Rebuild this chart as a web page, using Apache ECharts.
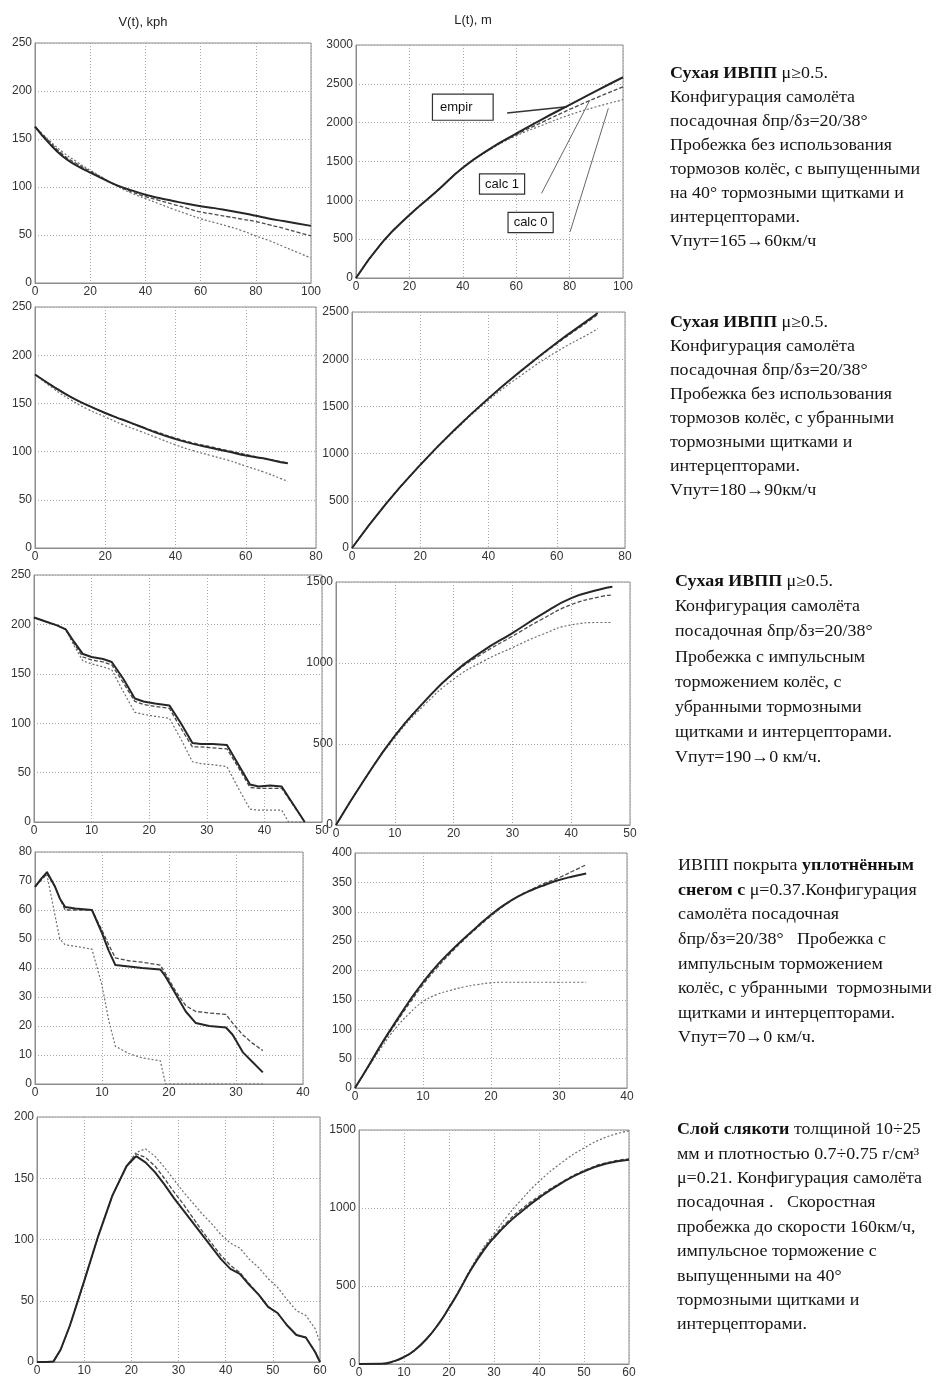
<!DOCTYPE html>
<html>
<head>
<meta charset="utf-8">
<script src="https://cdn.jsdelivr.net/npm/echarts@6/dist/echarts.min.js"></script>
<style>
  html, body { margin: 0; padding: 0; background: #fff; }
  #chart { width: 941px; height: 1383px; }
</style>
</head>
<body>
<div id="chart"></div>
<script>
// ---- Row 1: dry runway, no wheel brakes, spoilers out at 40° ----
const t1 = [0,5,10,15,20,25,30,35,40,45,50,55,60,65,70,75,80,85,90,95,100];
const v1Empir = [163,146,132,122.5,115,108,101.5,96.5,92,88.5,85.5,82.5,80,78,75.5,73,70,67,64.5,62,59.5];
const v1Calc1 = [163,148,134,124.5,116.5,108.5,101,95,90,86,82,78,74,71.5,69,66.5,64,60.5,57,53,49];
const v1Calc0 = [163,149,136.5,126.5,117.5,109,100.5,93.5,88,82.5,77,72,67,63,59,54.5,49,44,38,32,26];
const tL1 = [0,10,20,30,40,50,60,70,80,90,100];
const l1Empir = [0,465,810,1110,1420,1660,1860,2050,2230,2410,2585];
const l1Calc1 = [0,465,810,1110,1420,1655,1845,2010,2170,2320,2460];
const l1Calc0 = [0,465,810,1110,1420,1650,1830,1970,2100,2205,2295];

// ---- Row 2: dry runway, no wheel brakes, spoilers retracted ----
const t2 = [0,5,10,15,20,25,30,35,40,45,50,55,60,65,70,72];
const v2Empir = [180,168,157,148,140,133,126,119,113,108,104,100,96,93,89,88];
const v2Calc1 = [180,168,157,148,140,133,126,120,114,109,105,101,97,93,89.5,88];
const v2Calc0 = [180,166,154,144,136,128,121,114,107,101,96,91,85,79,72,69];
const tL2 = [0,10,20,30,40,50,60,70,72];
const l2Empir = [0,470,880,1250,1585,1890,2175,2435,2490];
const l2Calc1 = [0,470,880,1250,1585,1885,2165,2420,2475];
const l2Calc0 = [0,470,875,1240,1565,1840,2080,2280,2325];

// ---- Row 3: dry runway, pulsed wheel braking ----
const t3 = [0,2,4,5.5,7,8.5,10,12,13.5,15.5,17.5,19,21,23.5,25.5,27.5,29,31,33.5,35.5,37.5,39,41,43,44.2,45,47];
const v3Empir = [207,203,199,195,182,170,167,165,162,145,125,122,120,118,100,80,79,79,78,58,38,36,37,36,25,18,0];
const v3Calc1 = [207,203,199,195,180,167,164,162,159,141,122,119,117,115,95,76,76,75,74,55,35,34,34,34,24,17,0];
const v3Calc0 = [207,203,199,195,178,163,160,157,154,132,111,109,107,105,84,61,59,58,56,34,13,12,12,12,0,0,0];
const tL3 = [0,5,10,15,20,25,30,35,40,45,47];
const l3Empir = [0,290,550,760,940,1075,1185,1300,1400,1455,1470];
const l3Calc1 = [0,290,550,760,935,1060,1165,1270,1360,1410,1420];
const l3Calc0 = [0,288,540,740,900,1010,1095,1175,1235,1250,1250];

// ---- Row 4: compacted snow, mu = 0.37 ----
const t4 = [0,1,1.8,3,3.7,4.5,6,8.5,10,11,12,14,16,18.7,19.5,21,22.5,24,26,28.5,29.5,31,32.5,34];
const v4Empir = [68,71,73,68,64,61,60.5,60,52,46,41,40.5,40,39.5,37,31,25,21,20,19.5,17,11,7.5,4];
const v4Calc1 = [68,70.5,72.5,68,64,60,60,60,53,48,43.5,42.5,42,41,38,32,27,25,24.5,24,21,17,14,11.5];
const v4Calc0 = [68,71,72,58,50,48,47.5,46.5,34,22,13,10.5,9,8,0,0,0,0,0,0,0,0,0,0];
const tL4 = [0,2,4,6,8,10,12,14,16,18,20,22,24,26,28,30,32,34];
const l4Empir = [0,38,77,113,148,180,208,232,254,275,295,312,326,337,346,354,360,365];
const l4Calc1 = [0,37,75,110,144,176,204,229,252,273,293,311,326,338,349,358,369,380];
const l4Calc0 = [0,36,71,102,127,147,159,166,172,176,179,180,180,180,180,180,180,180];

// ---- Row 5: slush layer, mu = 0.21 ----
const t5 = [0,2,3.5,5,7,10,13,16,19,21,23,25,27,29,31,33,35,37,39,41,43,45,47,49,51,53,55,57,59,60];
const v5Empir = [0,0,0.5,10,30,66,103,136,160,168,163,155,145,134,124,114,104,94,84,76,72,63,55,45,40,30,22,20,8,0];
const v5Calc1 = [0,0,0.5,10,30,66,103,136,160,170,167,160,150,139,129,118,107,97,87,79,73,64,55,45,40,30,22,20,8,0];
const v5Calc0 = [0,0,0.5,10,30,66,103,136,160,171,174,168,159,149,139,130,121,113,104,97,93,84,77,68,61,51,42,38,27,16];
const tL5 = [0,5,8,10,12,15,18,20,22,25,28,30,33,36,40,45,50,55,60];
const l5Empir = [0,1,20,45,80,160,270,360,455,610,740,810,900,975,1065,1160,1235,1285,1310];
const l5Calc1 = [0,1,20,45,80,160,270,362,460,615,750,820,912,990,1075,1165,1240,1290,1315];
const l5Calc0 = [0,1,20,45,80,160,270,362,462,620,760,835,950,1050,1170,1290,1385,1455,1495];

const seriesNames = ['empir', 'calc 1', 'calc 0'];
const columnTitles = ['V(t), kph', 'L(t), m'];

// Description texts beside each row ({b|...} = bold)
const notes1 = [
  '{b|Сухая ИВПП} μ≥0.5.',
  'Конфигурация самолёта',
  'посадочная δпр/δз=20/38°',
  'Пробежка без использования',
  'тормозов колёс, с выпущенными',
  'на 40° тормозными щитками и',
  'интерцепторами.',
  'Vпут=165→60км/ч'
];
const notes2 = [
  '{b|Сухая ИВПП} μ≥0.5.',
  'Конфигурация самолёта',
  'посадочная δпр/δз=20/38°',
  'Пробежка без использования',
  'тормозов колёс, с убранными',
  'тормозными щитками и',
  'интерцепторами.',
  'Vпут=180→90км/ч'
];
const notes3 = [
  '{b|Сухая ИВПП} μ≥0.5.',
  'Конфигурация самолёта',
  'посадочная δпр/δз=20/38°',
  'Пробежка с импульсным',
  'торможением колёс, с',
  'убранными тормозными',
  'щитками и интерцепторами.',
  'Vпут=190→0 км/ч.'
];
const notes4 = [
  'ИВПП покрыта {b|уплотнённым}',
  '{b|снегом с} μ=0.37.Конфигурация',
  'самолёта посадочная',
  'δпр/δз=20/38°   Пробежка с',
  'импульсным торможением',
  'колёс, с убранными  тормозными',
  'щитками и интерцепторами.',
  'Vпут=70→0 км/ч.'
];
const notes5 = [
  '{b|Слой слякоти} толщиной 10÷25',
  'мм и плотностью 0.7÷0.75 г/см³',
  'μ=0.21. Конфигурация самолёта',
  'посадочная .   Скоростная',
  'пробежка до скорости 160км/ч,',
  'импульсное торможение с',
  'выпущенными на 40°',
  'тормозными щитками и',
  'интерцепторами.'
];

// ---- layout ----
const panels = [
  { rect: [35, 43, 276, 240],  x: [0, 100, 20], y: [0, 250, 50],   t: t1,  s: [v1Empir, v1Calc1, v1Calc0], smooth: true },
  { rect: [356, 45, 267, 233], x: [0, 100, 20], y: [0, 3000, 500], t: tL1, s: [l1Empir, l1Calc1, l1Calc0], smooth: true },
  { rect: [35, 307, 281, 241], x: [0, 80, 20],  y: [0, 250, 50],   t: t2,  s: [v2Empir, v2Calc1, v2Calc0], smooth: true },
  { rect: [352, 312, 273, 236], x: [0, 80, 20], y: [0, 2500, 500], t: tL2, s: [l2Empir, l2Calc1, l2Calc0], smooth: true },
  { rect: [34, 575, 288, 247], x: [0, 50, 10],  y: [0, 250, 50],   t: t3,  s: [v3Empir, v3Calc1, v3Calc0], smooth: false },
  { rect: [336, 582, 294, 243], x: [0, 50, 10], y: [0, 1500, 500], t: tL3, s: [l3Empir, l3Calc1, l3Calc0], smooth: true },
  { rect: [35, 852, 268, 232], x: [0, 40, 10],  y: [0, 80, 10],    t: t4,  s: [v4Empir, v4Calc1, v4Calc0], smooth: false },
  { rect: [355, 853, 272, 235], x: [0, 40, 10], y: [0, 400, 50],   t: tL4, s: [l4Empir, l4Calc1, l4Calc0], smooth: true },
  { rect: [37, 1117, 283, 245], x: [0, 60, 10], y: [0, 200, 50],   t: t5,  s: [v5Empir, v5Calc1, v5Calc0], smooth: false },
  { rect: [359, 1130, 270, 234], x: [0, 60, 10], y: [0, 1500, 500], t: tL5, s: [l5Empir, l5Calc1, l5Calc0], smooth: true }
];

const lineStyles = [
  { color: '#262626', width: 2.0, type: 'solid', z: 5 },
  { color: '#4a4a4a', width: 1.3, type: [4, 2], z: 4 },
  { color: '#6e6e6e', width: 1.2, type: [2, 2], z: 3 }
];

const tickFont = { fontFamily: 'Liberation Sans, Arial, sans-serif', fontSize: 12, color: '#333' };

const grid = [], xAxis = [], yAxis = [], series = [];
panels.forEach((p, i) => {
  grid.push({
    left: p.rect[0], top: p.rect[1], width: p.rect[2], height: p.rect[3],
    show: true, borderColor: '#8c8c8c', borderWidth: 1, backgroundColor: 'transparent', containLabel: false
  });
  const axisCommon = {
    type: 'value', gridIndex: i,
    axisLine: { show: true, onZero: false, lineStyle: { color: '#8c8c8c', width: 1 } },
    axisTick: { show: false },
    splitLine: { show: true, lineStyle: { color: '#a8a8a8', type: [1, 2], width: 1 } },
    axisLabel: Object.assign({
      margin: 3, showMinLabel: true, showMaxLabel: true, hideOverlap: false,
      formatter: v => String(v)
    }, tickFont)
  };
  xAxis.push(Object.assign({}, axisCommon, { min: p.x[0], max: p.x[1], interval: p.x[2] }));
  yAxis.push(Object.assign({}, axisCommon, { min: p.y[0], max: p.y[1], interval: p.y[2] }));
  p.s.forEach((vals, k) => {
    const st = lineStyles[k];
    series.push({
      name: seriesNames[k], type: 'line', xAxisIndex: i, yAxisIndex: i,
      data: p.t.map((tt, j) => [tt, vals[j]]),
      showSymbol: false, symbol: 'none', smooth: p.smooth ? 0.5 : false,
      z: st.z,
      lineStyle: { color: st.color, width: st.width, type: st.type, join: 'round' },
      silent: true
    });
  });
});

// Callout boxes with leader lines on the top-right distance plot
const calloutBoxes = [
  { name: 'empir',  coord: [40, 2200],  pad: [6, 20, 6, 7] },
  { name: 'calc 1', coord: [54.7, 1210], pad: [3, 5, 3, 5] },
  { name: 'calc 0', coord: [65.4, 714],  pad: [3, 5, 3, 5] }
];
const calloutLeaders = [
  { from: [56.6, 2124], to: [79, 2205],  color: '#333', width: 1.6 },
  { from: [69.5, 1090], to: [87.6, 2291], color: '#666', width: 1 },
  { from: [80.2, 596],  to: [94.5, 2184], color: '#666', width: 1 }
];
series.push({
  type: 'line', xAxisIndex: 1, yAxisIndex: 1, data: [], silent: true, z: 10,
  markLine: {
    silent: true, symbol: 'none', animation: false, label: { show: false },
    data: calloutLeaders.map(l => [
      { coord: l.from, lineStyle: { color: l.color, width: l.width, type: 'solid' } },
      { coord: l.to }
    ])
  },
  markPoint: {
    silent: true, animation: false, symbol: 'rect', symbolSize: 1,
    itemStyle: { color: 'transparent' },
    data: calloutBoxes.map(b => ({
      name: b.name, coord: b.coord,
      label: {
        show: true, position: 'inside', formatter: b.name,
        fontFamily: 'Liberation Sans, Arial, sans-serif', fontSize: 13, color: '#111',
        backgroundColor: '#fff', borderColor: '#333', borderWidth: 1.2, padding: b.pad
      }
    }))
  }
});

// Text elements: column titles and row descriptions
const graphic = [
  { type: 'text', style: { text: columnTitles[0], x: 143, y: 22, textAlign: 'center', textVerticalAlign: 'middle',
      font: '13px "Liberation Sans", Arial, sans-serif', fill: '#222' } },
  { type: 'text', style: { text: columnTitles[1], x: 473, y: 20, textAlign: 'center', textVerticalAlign: 'middle',
      font: '13px "Liberation Sans", Arial, sans-serif', fill: '#222' } }
];
const noteBlocks = [
  { lines: notes1, x: 670, y: 74,  step: 24.0 },
  { lines: notes2, x: 670, y: 323, step: 24.0 },
  { lines: notes3, x: 675, y: 582, step: 25.1 },
  { lines: notes4, x: 678, y: 866, step: 24.6 },
  { lines: notes5, x: 677, y: 1130, step: 24.4 }
];
const noteFont = '"Liberation Serif", "Times New Roman", serif';
noteBlocks.forEach(b => {
  b.lines.forEach((line, i) => {
    graphic.push({
      type: 'text', x: b.x, y: b.y + i * b.step, scaleX: 1.12,
      style: {
        text: line, x: 0, y: 0, textAlign: 'left', textVerticalAlign: 'middle',
        font: '16px ' + noteFont, fill: '#141414',
        rich: { b: { fontWeight: 'bold', fontSize: 16, fontFamily: noteFont, fill: '#111' } }
      }
    });
  });
});

const chart = echarts.init(document.getElementById('chart'), null, { renderer: 'canvas' });
chart.setOption({
  backgroundColor: '#fff',
  animation: false,
  grid, xAxis, yAxis, series, graphic
});
</script>
</body>
</html>
